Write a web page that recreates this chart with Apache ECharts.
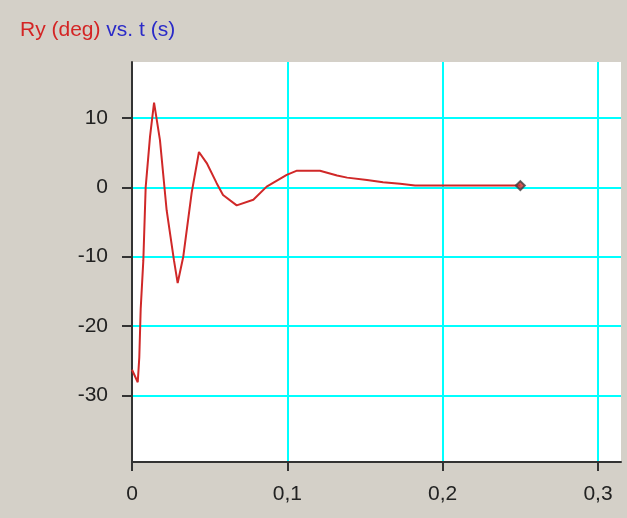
<!DOCTYPE html>
<html>
<head>
<meta charset="utf-8">
<script src="https://cdn.jsdelivr.net/npm/echarts@6/dist/echarts.min.js"></script>
<style>
  html, body { margin: 0; padding: 0; background: #d4d0c8; }
  #chart { width: 627px; height: 518px; }
</style>
</head>
<body>
<div id="chart"></div>
<script>
// time (s) and Ry (deg)
const tValues = [0, 0.0037, 0.0047, 0.0056, 0.0073, 0.0088, 0.0116, 0.0142, 0.018, 0.0223, 0.027, 0.0294,
  0.033, 0.0384, 0.0431, 0.0481, 0.0545, 0.0586, 0.0674, 0.0781, 0.0867, 0.0996, 0.1062, 0.121,
  0.132, 0.1385, 0.1513, 0.1616, 0.1726, 0.1822, 0.25];
const ryValues = [-26.3, -28.1, -24.5, -17.5, -10.5, 0, 7.3, 12.2, 6.8, -3.3, -10.5, -13.8,
  -10.0, -0.8, 5.1, 3.5, 0.6, -1.1, -2.6, -1.8, 0.1, 1.8, 2.4, 2.4,
  1.7, 1.4, 1.07, 0.73, 0.5, 0.25, 0.25];

const xTicks = [0, 0.1, 0.2, 0.3];
const yTicks = [-30, -20, -10, 0, 10];

const points = tValues.map((t, i) => [t, ryValues[i]]);
const lastPoint = points[points.length - 1];

const labelFont = {
    color: '#222',
    fontFamily: '"Liberation Sans", Arial, sans-serif',
    fontSize: 21
};

const chart = echarts.init(document.getElementById('chart'));
chart.setOption({
    backgroundColor: '#d4d0c8',
    animation: false,
    title: {
        left: 15,
        top: 15,
        text: '{a|Ry (deg)} {b|vs. t (s)}',
        textStyle: {
            fontFamily: labelFont.fontFamily,
            fontSize: 21,
            fontWeight: 'normal',
            rich: {
                a: { color: '#d42424', fontFamily: labelFont.fontFamily, fontSize: 21 },
                b: { color: '#2a2ac8', fontFamily: labelFont.fontFamily, fontSize: 21 }
            }
        }
    },
    grid: {
        left: 132, top: 62, right: 6, bottom: 56,
        show: true, backgroundColor: '#ffffff', borderWidth: 0
    },
    xAxis: {
        type: 'value',
        min: 0,
        max: 0.3148,
        axisLine: { onZero: false, lineStyle: { color: '#333', width: 2 } },
        axisTick: { show: true, length: 9, customValues: xTicks, lineStyle: { color: '#333', width: 2 } },
        axisLabel: Object.assign({
            margin: 22,
            customValues: xTicks,
            formatter: v => String(v).replace('.', ',')
        }, labelFont),
        splitLine: { show: true, lineStyle: { color: '#00ffff', width: 2 } }
    },
    yAxis: {
        type: 'value',
        min: -39.6,
        max: 18.07,
        axisLine: { show: true, onZero: false, lineStyle: { color: '#333', width: 2 } },
        axisTick: { show: true, length: 10, customValues: yTicks, lineStyle: { color: '#333', width: 2 } },
        axisLabel: Object.assign({ margin: 24, customValues: yTicks }, labelFont),
        splitLine: { show: true, lineStyle: { color: '#00ffff', width: 2 } }
    },
    series: [{
        type: 'line',
        data: points,
        showSymbol: false,
        symbol: 'none',
        lineStyle: { color: '#d02828', width: 2 },
        z: 3
    }, {
        type: 'scatter',
        data: [lastPoint],
        symbol: 'diamond',
        symbolSize: 9,
        itemStyle: { color: '#c83030', borderColor: '#404040', borderWidth: 2 },
        z: 4
    }]
});
</script>
</body>
</html>
